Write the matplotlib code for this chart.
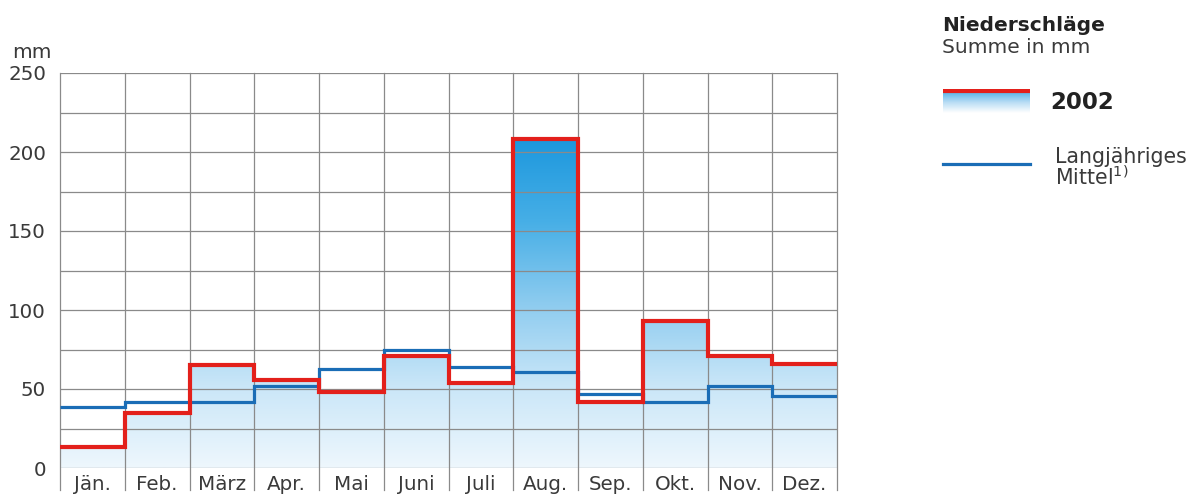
import matplotlib

matplotlib.use("Agg")

import matplotlib.pyplot as plt  # noqa: E402
import numpy as np  # noqa: E402
from matplotlib.colors import LinearSegmentedColormap  # noqa: E402
from matplotlib.patches import Polygon  # noqa: E402

months = ["Jän.", "Feb.", "März", "Apr.", "Mai", "Juni",
          "Juli", "Aug.", "Sep.", "Okt.", "Nov.", "Dez."]
rain_2002 = [13, 35, 65, 56, 48, 71, 54, 208, 42, 93, 71, 66]
rain_mean = [38.5, 42, 42, 52, 62.5, 75, 64, 61, 47, 42, 52, 45.5]
y_ticks = [0, 50, 100, 150, 200, 250]

RED = "#e3201b"
BLUE = "#1a6db6"
GRID = "#8a8a8a"
TXT = "#3a3a3a"

plt.rcParams["font.family"] = ["DejaVu Sans"]
plt.rcParams["mathtext.fontset"] = "dejavusans"

W, H = 1195, 496
fig = plt.figure(figsize=(W / 100, H / 100), dpi=100)
ax = fig.add_axes([60 / W, 1 - 468 / H, (837 - 60) / W, (468 - 73) / H])


def fy(py):
    """pixel row from the top -> figure fraction"""
    return 1 - py / H


n = len(months)
edges = np.arange(n + 1)
ymax = 250

# gradient fill under the 2002 step line
cmap = LinearSegmentedColormap.from_list(
    "rain", ["#eef7fd", "#c9e6f8", "#8ccbef", "#45aee6", "#1c97dd"])
grad = np.linspace(0, 1, 256).reshape(-1, 1)
img = ax.imshow(grad, cmap=cmap, origin="lower", aspect="auto",
                extent=(0, n, 0, 210), zorder=1)
xs = np.repeat(edges, 2)[1:-1]
ys = np.repeat(rain_2002, 2)
poly = np.column_stack([np.r_[0, xs, n], np.r_[0, ys, 0]])
clip = Polygon(poly, closed=True, transform=ax.transData, fc="none", ec="none")
ax.add_patch(clip)
img.set_clip_path(clip)

# grid
for y in range(0, ymax + 1, 25):
    ax.axhline(y, color=GRID, lw=0.9, zorder=2)
for x in edges:
    ax.plot([x, x], [-14, ymax], color=GRID, lw=0.9, zorder=2, clip_on=False)

ax.stairs(rain_mean, edges, color=BLUE, lw=2.3, zorder=3, baseline=None)
ax.stairs(rain_2002, edges, color=RED, lw=3.0, zorder=4, baseline=None)

ax.set_xlim(0, n)
ax.set_ylim(0, ymax)
for s in ax.spines.values():
    s.set_visible(False)
ax.set_yticks(y_ticks)
ax.set_yticklabels([str(v) for v in y_ticks], fontsize=14.3, color=TXT)
ax.set_xticks(edges[:-1] + 0.5)
ax.set_xticklabels(months, fontsize=14.3, color=TXT)
ax.tick_params(length=0)
ax.tick_params(axis="y", pad=10)
ax.tick_params(axis="x", pad=5)
fig.text(52 / W, fy(58), "mm", fontsize=14.5, color=TXT,
         ha="right", va="baseline")

# legend
fig.text(942 / W, fy(31), "Niederschläge", fontsize=14.5, weight="bold",
         color="#222222", va="baseline")
fig.text(942 / W, fy(53), "Summe in mm", fontsize=14.5, color=TXT,
         va="baseline")

lax = fig.add_axes([943 / W, fy(113), (1030 - 943) / W, 24 / H])
lax.set_xlim(0, 1)
lax.set_ylim(0, 1)
lax.axis("off")
lg = np.linspace(0, 1, 64).reshape(-1, 1)
lcmap = LinearSegmentedColormap.from_list("leg", ["#ffffff", "#b7dcf4", "#4fb1e8"])
lax.imshow(lg, cmap=lcmap, origin="lower", aspect="auto", extent=(0, 1, 0.0, 0.9))
lax.plot([0, 1], [0.9, 0.9], color=RED, lw=3.0, solid_capstyle="butt")
fig.text(1050 / W, fy(109), "2002", fontsize=16.5, weight="bold",
         color="#222222", va="baseline")

fig.add_artist(plt.Line2D([943 / W, 1030 / W], [fy(164), fy(164)],
                          color=BLUE, lw=2.3, transform=fig.transFigure))
fig.text(1055 / W, fy(163), "Langjähriges", fontsize=14.8,
         color=TXT, va="baseline")
fig.text(1055 / W, fy(185), r"Mittel$^{1)}$", fontsize=14.8,
         color=TXT, va="baseline")

fig.savefig("out.png", dpi=100)
